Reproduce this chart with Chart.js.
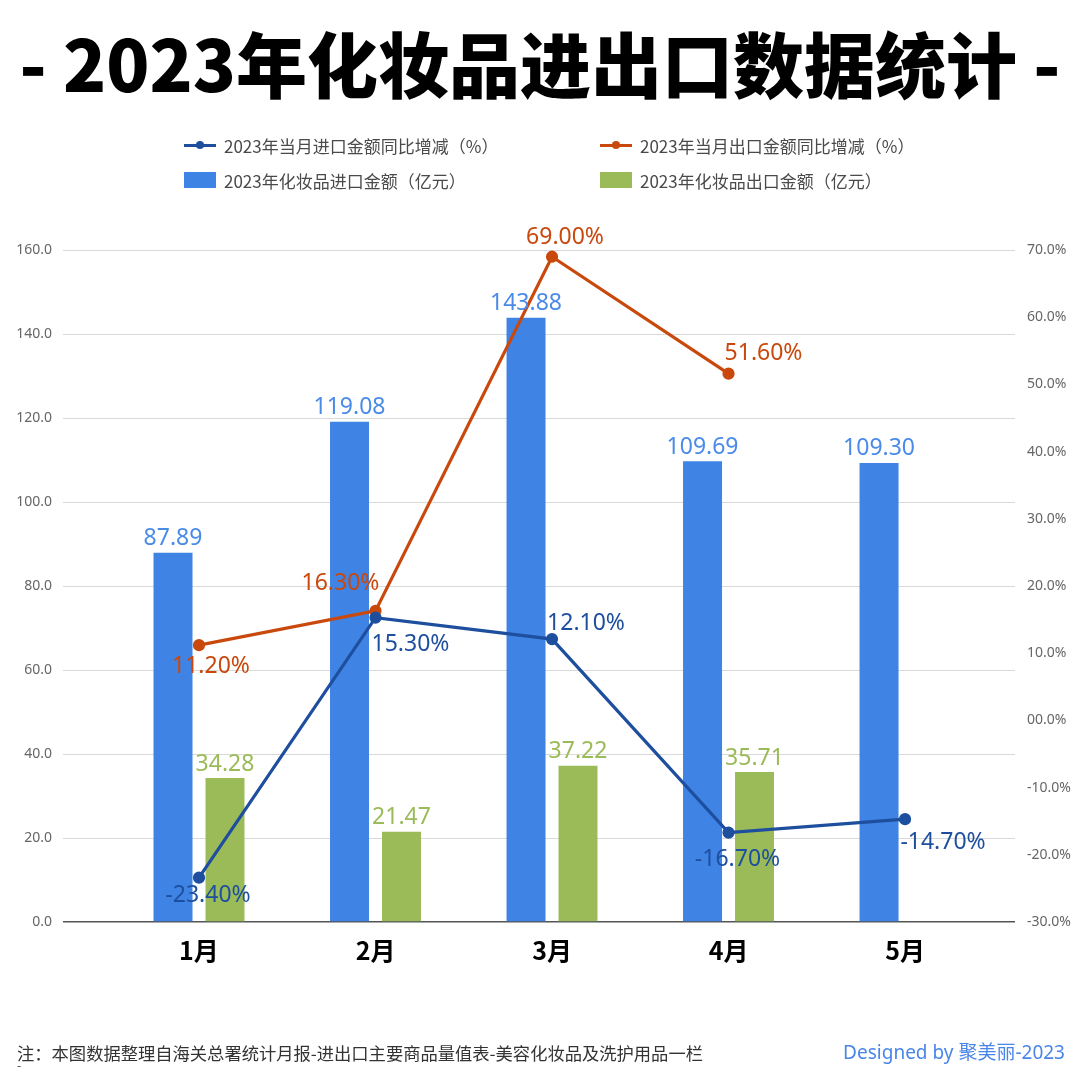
<!DOCTYPE html>
<html>
<head>
<meta charset="utf-8">
<script src="https://cdn.jsdelivr.net/npm/chart.js@4.4.1/dist/chart.umd.min.js"></script>
<style>
  html, body { margin: 0; padding: 0; background: #fff; }
  #page { position: relative; width: 1080px; height: 1072px; overflow: hidden; font-family: "Noto Sans CJK SC", "Noto Sans", sans-serif; }
  #title { position: absolute; left: 0; top: 17px; width: 1080px; text-align: center; font-size: 71px; font-weight: 900; color: #000; line-height: 88px; white-space: nowrap; }
  #legend { position: absolute; left: 0; top: 0; width: 1080px; height: 200px; }
  .lg-item { position: absolute; display: flex; align-items: center; font-size: 17px; color: #4a4a4a; white-space: nowrap; }
  .lg-mark { position: relative; width: 32px; height: 16px; margin-right: 8px; }
  #chartBox { position: absolute; left: 0; top: 0; width: 1080px; height: 1072px; }
  #note { position: absolute; left: 17px; top: 1040px; font-size: 17.3px; color: #333; white-space: nowrap; }
  #dash { position: absolute; left: 17px; top: 1056px; font-size: 12px; color: #333; }
  #sign { position: absolute; right: 15px; top: 1037px; font-size: 19px; color: #4A86E8; white-space: nowrap; font-family: "Noto Sans", "Noto Sans CJK SC", sans-serif; }
</style>
</head>
<body>
<div id="page">
  <div id="chartBox"><canvas id="chart" width="1080" height="1072"></canvas></div>
  <div id="title">- 2023年化妆品进出口数据统计 -</div>
  <div id="legend"></div>
  <div id="note">注：本图数据整理自海关总署统计月报-进出口主要商品量值表-美容化妆品及洗护用品一栏</div>
  <div id="dash">-</div>
  <div id="sign">Designed by 聚美丽-2023</div>
</div>
<script>
// 数据
const months = ['1月', '2月', '3月', '4月', '5月'];
const importAmount = [87.89, 119.08, 143.88, 109.69, 109.30];
const exportAmount = [34.28, 21.47, 37.22, 35.71, null];
const importYoY = [-23.40, 15.30, 12.10, -16.70, -14.70];
const exportYoY = [11.20, 16.30, 69.00, 51.60, null];

const leftTicks = { min: 0, max: 160, step: 20 };
const rightTicks = { min: -30, max: 70, step: 10 };

// 折线标签偏移（像素）
const importYoYOffset = [[9, 18], [35, 27], [34, -16], [9, 27], [38, 23]];
const exportYoYOffset = [[12, 21], [-35, -27], [13, -19], [35, -20], [0, 0]];

const toXY = arr => arr.map((v, i) => ({ x: i, y: v }));

const dataLabels = {
    id: 'dataLabels',
    afterDatasetsDraw(chart) {
        const ctx = chart.ctx;
        ctx.save();
        ctx.textAlign = 'center';
        ctx.textBaseline = 'middle';
        ctx.font = '23px "Noto Sans", sans-serif';
        chart.data.datasets.forEach((ds, di) => {
            const meta = chart.getDatasetMeta(di);
            meta.data.forEach((el, i) => {
                const v = ds.data[i].y;
                if (v === null || v === undefined) return;
                ctx.fillStyle = ds.labelColor;
                if (ds.type === 'bar') {
                    ctx.fillText(v.toFixed(2), el.x, el.y - 14);
                } else {
                    const off = ds.labelOffset[i];
                    ctx.fillText(v.toFixed(2) + '%', el.x + off[0], el.y + off[1]);
                }
            });
        });
        ctx.restore();
    }
};

const chart = new Chart(document.getElementById('chart').getContext('2d'), {
    data: {
        datasets: [
            {
                type: 'line',
                label: '2023年当月进口金额同比增减（%）',
                data: toXY(importYoY),
                yAxisID: 'y2',
                borderColor: '#1E4E9E',
                backgroundColor: '#1E4E9E',
                borderWidth: 3.2,
                pointRadius: 4.5,
                pointHoverRadius: 4.5,
                labelColor: '#1E4E9E',
                labelOffset: importYoYOffset,
                order: 0
            },
            {
                type: 'line',
                label: '2023年当月出口金额同比增减（%）',
                data: toXY(exportYoY),
                yAxisID: 'y2',
                borderColor: '#C9480C',
                backgroundColor: '#C9480C',
                borderWidth: 3.2,
                pointRadius: 4.5,
                pointHoverRadius: 4.5,
                labelColor: '#C9480C',
                labelOffset: exportYoYOffset,
                order: 0
            },
            {
                type: 'bar',
                label: '2023年化妆品进口金额（亿元）',
                data: toXY(importAmount),
                yAxisID: 'y',
                backgroundColor: '#3F84E5',
                labelColor: '#4A8BE8',
                categoryPercentage: 0.589,
                barPercentage: 0.75,
                order: 1
            },
            {
                type: 'bar',
                label: '2023年化妆品出口金额（亿元）',
                data: toXY(exportAmount),
                yAxisID: 'y',
                backgroundColor: '#9BBB59',
                labelColor: '#9BBB59',
                categoryPercentage: 0.589,
                barPercentage: 0.75,
                order: 1
            }
        ]
    },
    options: {
        responsive: false,
        animation: false,
        layout: { padding: { top: 250, bottom: 90, left: 0, right: 0 } },
        plugins: {
            legend: { display: false },
            tooltip: { enabled: false }
        },
        scales: {
            x: {
                type: 'linear',
                offset: false,
                min: -0.7705,
                max: 4.623,
                afterBuildTicks: scale => { scale.ticks = months.map((m, i) => ({ value: i })); },
                afterFit: scale => { scale.height = 60; },
                grid: { display: false, drawTicks: false },
                border: { display: false },
                ticks: {
                    autoSkip: false,
                    maxRotation: 0,
                    padding: 13,
                    color: '#000',
                    font: { family: '"Noto Sans CJK SC", sans-serif', size: 25, weight: 'bold' },
                    callback: v => months[v]
                }
            },
            y: {
                position: 'left',
                min: leftTicks.min,
                max: leftTicks.max,
                afterFit: scale => { scale.width = 63; },
                grid: {
                    drawTicks: false,
                    color: c => c.tick.value === 0 ? '#555' : '#D9D9D9',
                    lineWidth: c => c.tick.value === 0 ? 1.5 : 1
                },
                border: { display: false },
                ticks: {
                    stepSize: leftTicks.step,
                    padding: 11,
                    color: '#666',
                    font: { family: '"Noto Sans", sans-serif', size: 14 },
                    callback: v => v.toFixed(1)
                }
            },
            y2: {
                position: 'right',
                min: rightTicks.min,
                max: rightTicks.max,
                afterFit: scale => { scale.width = 65; },
                grid: { drawOnChartArea: false, drawTicks: false },
                border: { display: false },
                ticks: {
                    stepSize: rightTicks.step,
                    padding: 12,
                    color: '#666',
                    font: { family: '"Noto Sans", sans-serif', size: 14 },
                    callback: v => (v === 0 ? '00.0' : v.toFixed(1)) + '%'
                }
            }
        }
    },
    plugins: [dataLabels]
});

// 图例
function buildLegend() {
    const box = document.getElementById('legend');
    const pos = [[184, 145], [600, 145], [184, 180], [600, 180]];
    chart.data.datasets.forEach((ds, i) => {
        const item = document.createElement('div');
        item.className = 'lg-item';
        item.style.left = pos[i][0] + 'px';
        item.style.top = (pos[i][1] - 12) + 'px';
        item.style.height = '24px';
        const mark = document.createElement('div');
        mark.className = 'lg-mark';
        if (ds.type === 'line') {
            mark.innerHTML = '<div style="position:absolute;left:0;top:6.5px;width:32px;height:3px;background:' + ds.borderColor + '"></div>' +
                '<div style="position:absolute;left:12px;top:4px;width:8px;height:8px;border-radius:50%;background:' + ds.borderColor + '"></div>';
        } else {
            mark.style.background = ds.backgroundColor;
        }
        const txt = document.createElement('span');
        txt.textContent = ds.label;
        item.appendChild(mark);
        item.appendChild(txt);
        box.appendChild(item);
    });
}
buildLegend();
</script>
</body>
</html>
